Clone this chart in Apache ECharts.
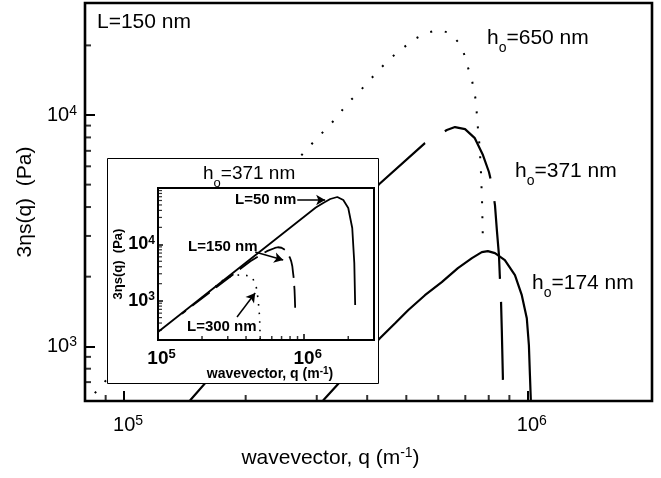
<!DOCTYPE html>
<html>
<head>
<meta charset="utf-8">
<script src="https://cdn.jsdelivr.net/npm/echarts@6/dist/echarts.min.js"></script>
<style>
html, body { margin: 0; padding: 0; background: #fff; }
#chart { width: 661px; height: 478px; }
</style>
</head>
<body>
<div id="chart"></div>
<script>
var FONT = '"Liberation Sans", Arial, Helvetica, sans-serif';

// main panel, L = 150 nm  (q in 1/m, 3*eta*s(q) in Pa)
var q650 = [8.0e4, 2.82e5, 3.37e5, 3.56e5, 3.80e5, 4.04e5, 4.30e5, 4.58e5, 4.91e5, 5.25e5, 5.62e5, 5.99e5, 6.41e5, 6.75e5, 6.95e5, 7.10e5, 7.26e5, 7.43e5, 7.51e5, 7.60e5, 7.65e5, 7.70e5, 7.74e5];
var s650 = [560, 7050, 9800, 11160, 12450, 14030, 15820, 17650, 19510, 21340, 22650, 23330, 22650, 20500, 18370, 16130, 14330, 11610, 9050, 7200, 5780, 4280, 2820];

var q371 = [1.456e5, 4.28e5, 5.56e5, 6.30e5, 6.60e5, 6.99e5, 7.39e5, 7.74e5, 8.01e5, 8.15e5, 8.29e5, 8.38e5, 8.48e5, 8.52e5, 8.58e5, 8.62e5, 8.67e5, 8.70e5];
var s371 = [583, 5020, 7560, 8610, 8870, 8690, 7940, 6710, 5670, 4980, 4080, 3180, 2480, 2030, 1580, 1170, 748, 560];

var q174 = [3.11e5, 4.30e5, 4.69e5, 5.05e5, 5.56e5, 6.12e5, 6.71e5, 7.27e5, 7.69e5, 7.96e5, 8.29e5, 8.77e5, 9.29e5, 9.66e5, 9.94e5, 1.006e6, 1.012e6, 1.018e6];
var s174 = [583, 1083, 1258, 1432, 1663, 1893, 2176, 2404, 2552, 2578, 2527, 2357, 2030, 1663, 1322, 1010, 748, 560];

// inset, h0 = 371 nm (L=150 curve is the same as q371/s371)
var q50 = [1.0e5, 1.2e6, 1.349e6, 1.507e6, 1.683e6, 1.85e6, 2.0e6, 2.13e6, 2.20e6, 2.23e6];
var s50 = [277, 45000, 54200, 63800, 69200, 61200, 44200, 19500, 4660, 836];

var q300 = [2.0e5, 2.88e5, 3.3e5, 3.8e5, 4.4e5, 4.69e5, 4.84e5, 4.95e5, 5.0e5];
var s300 = [1130, 2480, 2800, 2900, 2650, 1800, 1050, 520, 200];

// axis ranges and ticks
var mainX = [8.0e4, 2.03e6], mainY = [580, 30500];
var insetX = [1.0e5, 3.0e6], insetY = [200, 1.0e5];
var mainXMajor = [1e5, 1e6], mainYMajor = [1e3, 1e4];
var mainXMinor = [9e4, 2e5, 3e5, 4e5, 5e5, 6e5, 7e5, 8e5, 9e5];
var mainYMinor = [7e2, 8e2, 9e2, 2e3, 3e3, 4e3, 5e3, 6e3, 7e3, 8e3, 9e3, 2e4];
var insetXMajor = [1e5, 1e6], insetYMajor = [1e3, 1e4];
var insetXMinor = [2e5, 3e5, 4e5, 5e5, 6e5, 7e5, 8e5, 9e5, 2e6];
var insetYMinor = [3e2, 4e2, 5e2, 6e2, 7e2, 8e2, 9e2, 2e3, 3e3, 4e3, 5e3, 6e3, 7e3, 8e3, 9e3, 2e4, 3e4, 4e4, 5e4, 6e4, 7e4, 8e4, 9e4];

function pairs(xs, ys) {
	var out = [];
	for (var i = 0; i < xs.length; i++) out.push([xs[i], ys[i]]);
	return out;
}

function powFmt(list, pad) {
	return function (v) {
		for (var i = 0; i < list.length; i++) {
			if (Math.abs(v / list[i] - 1) < 1e-6) {
				var e = Math.round(Math.log(list[i]) / Math.LN10);
				return (pad ? '{p| }' : '') + '{b|10}{s|' + e + '}';
			}
		}
		return '';
	};
}

function powRich(size, supSize, weight, pad) {
	return {
		p: { width: pad || 0 },
		b: { fontSize: size, lineHeight: size + 2, fontFamily: FONT, fontWeight: weight, color: '#000' },
		s: { fontSize: supSize, lineHeight: supSize, verticalAlign: 'top', fontFamily: FONT, fontWeight: weight, color: '#000' }
	};
}

function tickSeries(name, xi, data, size, offset) {
	return {
		name: name, type: 'scatter', xAxisIndex: xi, yAxisIndex: xi,
		symbol: 'rect', symbolSize: size, symbolOffset: offset,
		itemStyle: { color: '#000' }, silent: true, clip: false, z: xi ? 12 : 3,
		data: data
	};
}

function subLabel(x, y, sub, rest, size) {
	return {
		type: 'text', x: x, y: y, z: 20,
		style: {
			text: '{a|h}{b|' + sub + '}{a|' + rest + '}',
			verticalAlign: 'middle',
			rich: {
				a: { fontSize: size, lineHeight: size + 13, fontFamily: FONT, fill: '#000' },
				b: { fontSize: Math.round(size * 0.68), lineHeight: Math.round(size * 0.68), verticalAlign: 'bottom', fontFamily: FONT, fill: '#000' }
			}
		}
	};
}

function plainLabel(x, y, text, size, weight) {
	return {
		type: 'text', x: x, y: y, z: 20,
		style: { text: text, fontSize: size, fontWeight: weight || 'normal', fontFamily: FONT, fill: '#000', verticalAlign: 'middle' }
	};
}

var chart = echarts.init(document.getElementById('chart'), null, { renderer: 'canvas' });

var option = {
	animation: false,
	backgroundColor: '#fff',
	grid: [
		{ left: 85, top: 3, right: 9, bottom: 77, show: true, borderColor: '#000', borderWidth: 2.6, outerBoundsMode: 'none' },
		{ left: 158, top: 188, width: 216, height: 152, show: true, borderColor: '#000', borderWidth: 2, z: 10, outerBoundsMode: 'none' }
	],
	xAxis: [{
		type: 'log', logBase: 10, gridIndex: 0, min: mainX[0], max: mainX[1],
		splitLine: { show: false }, axisLine: { show: false },
		axisTick: { inside: true, length: 10, lineStyle: { color: '#000', width: 2 } },
		axisLabel: { margin: 13, formatter: powFmt(mainXMajor, true), rich: powRich(20, 14, 'normal', 8) },
		name: '{n|wavevector, q (m}{s|-1}{n|)}', nameLocation: 'middle', nameGap: 45, nameMoveOverlap: false,
		nameTextStyle: { padding: [0, 76, 0, 0], rich: {
			n: { fontSize: 21, lineHeight: 24, fontFamily: FONT, color: '#000' },
			s: { fontSize: 14, lineHeight: 14, verticalAlign: 'top', fontFamily: FONT, color: '#000' }
		} }
	}, {
		type: 'log', logBase: 10, gridIndex: 1, min: insetX[0], max: insetX[1], z: 10,
		splitLine: { show: false }, axisLine: { show: false },
		axisTick: { inside: true, length: 6, lineStyle: { color: '#000', width: 1.5 } },
		axisLabel: { margin: 8, formatter: powFmt(insetXMajor, true), rich: powRich(19, 13, 'bold', 7) },
		name: '{n|wavevector, q (m}{s|-1}{n|)}', nameLocation: 'middle', nameGap: 26, nameMoveOverlap: false,
		nameTextStyle: { padding: [0, 0, 0, 8], rich: {
			n: { fontSize: 14, lineHeight: 16, fontFamily: FONT, fontWeight: 'bold', color: '#000' },
			s: { fontSize: 10, lineHeight: 10, verticalAlign: 'top', fontFamily: FONT, fontWeight: 'bold', color: '#000' }
		} }
	}],
	yAxis: [{
		type: 'log', logBase: 10, gridIndex: 0, min: mainY[0], max: mainY[1],
		splitLine: { show: false }, axisLine: { show: false },
		axisTick: { inside: true, length: 10, lineStyle: { color: '#000', width: 2 } },
		axisLabel: { margin: 8, formatter: powFmt(mainYMajor, false), rich: powRich(20, 14, 'normal') },
		name: '3ηs(q)  (Pa)', nameLocation: 'middle', nameGap: 49, nameMoveOverlap: false,
		nameTextStyle: { fontSize: 21, fontFamily: FONT, color: '#000' }
	}, {
		type: 'log', logBase: 10, gridIndex: 1, min: insetY[0], max: insetY[1], z: 10,
		splitLine: { show: false }, axisLine: { show: false },
		axisTick: { inside: true, length: 5, lineStyle: { color: '#000', width: 1.5 } },
		axisLabel: { margin: 3, formatter: powFmt(insetYMajor, false), rich: powRich(18, 12, 'bold') },
		name: '3ηs(q)  (Pa)', nameLocation: 'middle', nameGap: 33, nameMoveOverlap: false,
		nameTextStyle: { fontSize: 13, fontWeight: 'bold', fontFamily: FONT, color: '#000' }
	}],
	graphic: [
		{ type: 'rect', z: 5, shape: { x: 107.5, y: 158.5, width: 271, height: 225 }, style: { fill: '#fff', stroke: '#000', lineWidth: 1 } },
		plainLabel(97, 22, 'L=150 nm', 21),
		subLabel(487, 38, 'o', '=650 nm', 21),
		subLabel(515, 171, 'o', '=371 nm', 21),
		subLabel(532, 283, 'o', '=174 nm', 21),
		subLabel(203, 174, 'o', '=371 nm', 19),
		plainLabel(235, 200, 'L=50 nm', 15, 'bold'),
		plainLabel(188, 247, 'L=150 nm', 15, 'bold'),
		plainLabel(187, 327, 'L=300 nm', 15, 'bold')
	],
	series: [{
		name: 'h0=650 nm', type: 'line', xAxisIndex: 0, yAxisIndex: 0, showSymbol: false, silent: true,
		lineStyle: { color: '#000', width: 2, type: [2, 13] },
		data: pairs(q650, s650)
	}, {
		name: 'h0=371 nm', type: 'line', xAxisIndex: 0, yAxisIndex: 0, showSymbol: false, silent: true,
		lineStyle: { color: '#000', width: 2.2, type: [78, 23], dashOffset: 32 },
		data: pairs(q371, s371)
	}, {
		name: 'h0=174 nm', type: 'line', xAxisIndex: 0, yAxisIndex: 0, showSymbol: false, silent: true,
		lineStyle: { color: '#000', width: 2.2 },
		data: pairs(q174, s174)
	}, {
		name: 'L=50 nm', type: 'line', xAxisIndex: 1, yAxisIndex: 1, showSymbol: false, silent: true, z: 10,
		lineStyle: { color: '#000', width: 1.8 },
		data: pairs(q50, s50),
		markLine: {
			silent: true, symbol: ['none', 'arrow'], symbolSize: [8, 9],
			label: { show: false },
			lineStyle: { color: '#000', width: 1.5, type: 'solid' },
			data: [
				[{ coord: [8.96e5, 61200] }, { coord: [1.39e6, 61200] }],
				[{ coord: [4.62e5, 7300] }, { coord: [7.18e5, 5260] }],
				[{ coord: [3.47e5, 512] }, { coord: [4.62e5, 1365] }]
			]
		}
	}, {
		name: 'L=150 nm', type: 'line', xAxisIndex: 1, yAxisIndex: 1, showSymbol: false, silent: true, z: 10,
		lineStyle: { color: '#000', width: 1.8, type: [22, 8], dashOffset: 17 },
		data: pairs(q371, s371)
	}, {
		name: 'L=300 nm', type: 'line', xAxisIndex: 1, yAxisIndex: 1, showSymbol: false, silent: true, z: 10,
		lineStyle: { color: '#000', width: 1.6, type: [1.6, 7] },
		data: pairs(q300, s300)
	},
	tickSeries('main x minor', 0, mainXMinor.map(function (v) { return [v, mainY[0]]; }), [2, 6], [0, -3]),
	tickSeries('main y minor', 0, mainYMinor.map(function (v) { return [mainX[0], v]; }), [6, 2], [3, 0]),
	tickSeries('inset x minor', 1, insetXMinor.map(function (v) { return [v, insetY[0]]; }), [1.5, 4], [0, -2]),
	tickSeries('inset y minor', 1, insetYMinor.map(function (v) { return [insetX[0], v]; }), [4, 1.2], [2, 0])
	]
};

chart.setOption(option);
</script>
</body>
</html>
